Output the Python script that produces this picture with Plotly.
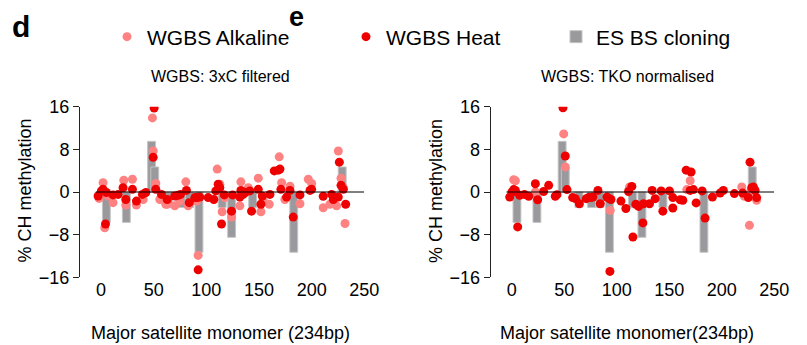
import plotly.graph_objects as go

# ---------------- data ----------------
BAR_X = [5, 24, 48, 51, 64, 76, 84, 93, 115, 124, 144, 183, 229]
BAR_Y = [-5.7, -5.7, 9.5, 4.7, -2.9, -2.9, -2.9, -11.3, -2.9, -8.5, -2.9, -11.3, 4.7]

L_ALK_X = [-1.9, 1.9, 3.5, 6.7, 11.4, 21.6, 23.5, 29.8, 33.6, 40, 48.8, 49.5, 52, 55.8, 61.5, 62.8, 70, 74.8,
           80.5, 82.7, 92.2, 90.7, 110.3, 112.8, 115, 117.6, 123.9, 132.8, 131.8, 139.8, 149.3, 151.8, 154,
           159.7, 169.2, 171.5, 174.6, 179.4, 188.9, 196.8, 200, 211, 217.4, 223.7, 225.3, 227.9, 231.7, 230.1]
L_ALK_Y = [-1.2, 1.75, -6.7, -0.75, -2.0, 2.2, -2.45, 2.4, -2.45, -1.4, 13.9, 7.7, 1.6, -1.4, -2.3, -2.3, -2.6, -1.7,
           1.9, -2.6, -11.9, -1.7, 4.3, 1.45, -3.7, -1.05, -4.7, 1.9, -2.6, 0.8, 2.6, -3.7, -1.4,
           -2.3, 6.6, 1.75, -1.4, 1.1, -2.2, 2.4, 1.6, -2.95, -2.3, -2.6, 7.7, 2.6, -5.9, 0.8]

L_HEAT_X = [-2.8, 0.3, 1.9, 5.1, 4.2, 11.4, 16.2, 20.9, 23.5, 29.8, 33.6, 39.3, 42.5, 49.5, 50.4, 52, 57.4, 62.8,
            70, 73.2, 75.4, 81.1, 83.7, 89.1, 91.3, 93.8, 92.2, 101.7, 107.1, 109, 111.2, 112.8, 114.4, 117,
            123.9, 124.9, 131.8, 132.8, 135, 136.9, 142.9, 141.3, 149.3, 151.8, 153.1, 160.4, 164.5, 168.3,
            169.9, 170.8, 176.2, 179.4, 182.5, 188.9, 198.4, 200, 211, 219, 220.6, 225.3, 226.3, 227.9, 230.1, 232.3]
L_HEAT_Y = [-0.75, 0.2, 0.5, -0.1, -6.0, -0.55, -0.45, 0.8, -1.4, 0.5, -1.7, -0.45, -0.1, 6.5, 15.75, 0.5, -0.45, -1.4,
            -0.75, -0.6, -0.45, 0.3, -2.0, -1.05, -1.05, -0.95, -14.6, -1.05, -1.4, 0.2, 1.45, 0.8, -6.0, -0.55,
            -3.6, -0.55, -0.95, 0.3, -0.45, -0.1, -3.6, 0.2, 0.5, -2.3, -0.75, -0.45, 3.95, 4.1,
            4.3, 0.5, -0.95, 0.3, -4.7, -0.55, 0.3, 0.5, -0.8, -0.45, -1.4, -0.95, 5.6, 1.25, 0.5, -2.3]

R_ALK_X = [1.9, 3.5, 22.5, 49.5, 51, 93.8, 112.2, 166.7, 169.9, 219, 221.5, 226.3, 227.5, 233.2]
R_ALK_Y = [2.3, 2.1, 0, 10.9, 4.7, -3.45, 0.95, 0.45, 2.1, 0.95, -0.8, -6.25, 0.1, -1.55]

R_HEAT_X = [-1.9, 0.3, 1.9, 3.5, 5.7, 7.6, 12.1, 16.2, 22.5, 24.7, 30.4, 35.2, 41.5, 43.1, 48.8, 51, 52.6, 58,
            60.6, 64.4, 71, 73.2, 75.4, 77.3, 82.1, 84.3, 90.7, 92.9, 94.5, 93.5, 104, 108.7, 111.2, 114.4,
            115.4, 118.2, 120.8, 124.9, 125.5, 131.2, 133.7, 136.6, 142.3, 143.9, 150.2, 153.4, 153.4, 160.4,
            162.9, 166.1, 170.8, 169.9, 173, 175.6, 181.3, 184.1, 191.1, 198.4, 201.5, 212, 219.9, 225.3,
            226.9, 228.5, 230.1, 231.7, 233.2]
R_HEAT_Y = [-0.95, 0, 0.45, 0.3, -6.55, -0.6, -0.45, -0.8, 1.55, -1.45, 0.1, 1.25, -0.8, -0.5, 15.8, 6.75, 0.45, -1.05,
            -1.25, -2.2, -1.25, -1.05, -1.05, -0.95, 0.3, -2.2, -0.95, -1.25, -1.4, -14.9, -1.7, -3.1, 0.1, 1.05,
            -8.45, -2.3, -2.7, -5.8, -2.2, -2.2, 0.3, -1.25, 0.2, -3.6, 0.2, -1.05, -3.0, -1.45,
            -1.55, 4.1, 3.75, 0.3, 0.45, -2.05, 0.2, -4.9, -0.95, -0.2, 0.3, -0.3, -0.2, -1.05,
            5.6, 0.8, 0.95, 0.3, -1.05]

X_TICKS = [0, 50, 100, 150, 200, 250]
Y_TICKS = [-16, -8, 0, 8, 16]
X_RANGE = [-20, 250]
Y_RANGE = [-16, 16]

PINK = "#ff8282"
RED = "#ee0000"
GREY = "#9a9a9e"
FONT = "Arial, Liberation Sans, sans-serif"

W, H = 807, 345
Y_DOM = [1 - 277.3 / H, 1 - 106.7 / H]
DOMS = [[80 / W, 364.3 / W], [490.7 / W, 774.3 / W]]
ZERO_POS = Y_DOM[0] + (Y_DOM[1] - Y_DOM[0]) * (0 - Y_RANGE[0]) / (Y_RANGE[1] - Y_RANGE[0])

fig = go.Figure()

panels = [(L_ALK_X, L_ALK_Y, L_HEAT_X, L_HEAT_Y), (R_ALK_X, R_ALK_Y, R_HEAT_X, R_HEAT_Y)]
for i, (ax, ay, hx, hy) in enumerate(panels):
    xa = "x" if i == 0 else "x2"
    ya = "y" if i == 0 else "y2"
    first = i == 0
    fig.add_trace(go.Bar(x=BAR_X, y=BAR_Y, width=7.5, xaxis=xa, yaxis=ya, name="ES BS cloning",
                         marker=dict(color=GREY, line=dict(color="#c4c4c4", width=1)),
                         showlegend=first, legend="legend3"))
    fig.add_trace(go.Scatter(x=ax, y=ay, mode="markers", xaxis=xa, yaxis=ya, name="WGBS Alkaline",
                             marker=dict(color=PINK, size=9), showlegend=first, legend="legend"))
    fig.add_trace(go.Scatter(x=hx, y=hy, mode="markers", xaxis=xa, yaxis=ya, name="WGBS Heat",
                             marker=dict(color=RED, size=9), showlegend=first, legend="legend2"))

axis_common = dict(range=X_RANGE, tickvals=X_TICKS, showline=False, ticks="", showgrid=False,
                   zeroline=False, tickfont=dict(family=FONT, size=18, color="#000"))
yaxis_common = dict(range=Y_RANGE, tickvals=Y_TICKS, domain=Y_DOM, showline=True, linecolor="#222",
                    linewidth=1, ticks="outside", ticklen=6, tickcolor="#222", showgrid=False,
                    zeroline=False, tickfont=dict(family=FONT, size=18, color="#000"))
zero_axis = dict(range=X_RANGE, tickvals=X_TICKS, showticklabels=False, ticks="outside", ticklen=4,
                 tickcolor="#000", showline=False, showgrid=False, zeroline=False, anchor="free",
                 position=ZERO_POS)

fig.update_layout(
    width=W, height=H, margin=dict(l=0, r=0, t=0, b=0, autoexpand=False),
    paper_bgcolor="white", plot_bgcolor="white", barmode="overlay",
    xaxis=dict(domain=DOMS[0], anchor="y", **axis_common),
    xaxis2=dict(domain=DOMS[1], anchor="y2", **axis_common),
    xaxis3=dict(overlaying="x", **zero_axis),
    xaxis4=dict(overlaying="x2", **zero_axis),
    yaxis=dict(anchor="x", **yaxis_common),
    yaxis2=dict(anchor="x2", **yaxis_common),
    font=dict(family=FONT, color="#000"),
)

leg = dict(orientation="h", yanchor="middle", y=1 - 37 / H, xanchor="left",
           bgcolor="rgba(0,0,0,0)", font=dict(family=FONT, size=21, color="#000"))
fig.update_layout(legend=dict(x=107 / W, **leg), legend2=dict(x=346 / W, **leg),
                  legend3=dict(x=556 / W, **leg))

for i in range(2):
    xr = "x" if i == 0 else "x2"
    fig.add_shape(type="line", xref=xr, yref="y" if i == 0 else "y2", x0=-5, x1=X_RANGE[1], y0=0, y1=0,
                  line=dict(color="#000", width=1), layer="above")

fig.add_annotation(text="<b>d</b>", x=21 / W, y=1 - 26 / H, xref="paper", yref="paper",
                   xanchor="center", yanchor="middle", showarrow=False,
                   font=dict(family=FONT, size=30, color="#000"))
fig.add_annotation(text="<b>e</b>", x=296 / W, y=1.0, xref="paper", yref="paper",
                   xanchor="center", yanchor="top", showarrow=False,
                   font=dict(family=FONT, size=27, color="#000"))

ann = [
    dict(text="WGBS: 3xC filtered", x=220 / W, y=1 - 77 / H, size=16),
    dict(text="WGBS: TKO normalised", x=627 / W, y=1 - 77 / H, size=16),
    dict(text="Major satellite monomer (234bp)", x=220 / W, y=1 - 333 / H, size=18),
    dict(text="Major satellite monomer(234bp)", x=627 / W, y=1 - 333 / H, size=18),
]
for a in ann:
    fig.add_annotation(text=a["text"], x=a["x"], y=a["y"], xref="paper", yref="paper",
                       xanchor="center", yanchor="middle", showarrow=False,
                       font=dict(family=FONT, size=a["size"], color="#000"))
for xc in [24.5, 436]:
    fig.add_annotation(text="% CH methylation", x=xc / W, y=1 - 191 / H, xref="paper", yref="paper",
                       xanchor="center", yanchor="middle", showarrow=False, textangle=-90,
                       font=dict(family=FONT, size=18, color="#000"))

fig.write_html("out.html", config={"displayModeBar": False},
               post_script="document.body.style.margin='0';document.body.style.overflow='hidden';")
